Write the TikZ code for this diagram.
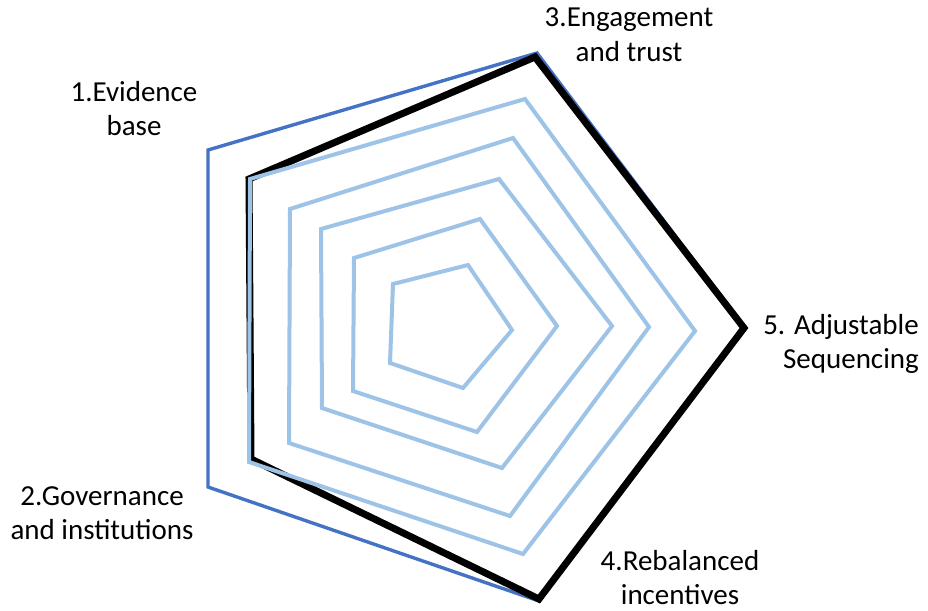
\documentclass[tikz,border=0pt]{standalone}
\usepackage{fontspec}
\setmainfont{Carlito}
\definecolor{ringblue}{HTML}{9DC3E6}
\definecolor{axisblue}{HTML}{4472C4}
\begin{document}
\begin{tikzpicture}[x=1pt,y=-1pt,
  ring/.style={draw=ringblue, line width=4pt, line join=miter},
  outerring/.style={draw=axisblue, line width=3.4pt, line join=miter},
  score/.style={draw=black, line width=7pt, line join=miter},
  axislabel/.style={font=\fontsize{29}{34}\selectfont, align=center, inner sep=0pt, anchor=base}]
\useasboundingbox (0,0) rectangle (928,610);

% title, only its lowest part falls inside the page
\node[font=\fontsize{56}{64}\selectfont, inner sep=0pt, anchor=base] (titlefrag) at (423,-25) {g};

% outer frame of the chart
\coordinate (evid) at (208,150);
\coordinate (enga) at (537,53);
\coordinate (adju) at (745,328);
\coordinate (reba) at (539,601);
\coordinate (gove) at (208,487);
\draw[outerring] (evid) -- (enga) -- (adju) -- (reba) -- (gove) -- cycle;

% assessed profile
\draw[score] (249,179) -- (535,57) -- (744,328) -- (539,599) -- (251,459) -- cycle;

% inner grid rings
\draw[ring] (393,284) -- (468,265) -- (512,330) -- (463,388) -- (390,363) -- cycle;
\draw[ring] (354,258) -- (480,219) -- (557,326) -- (477,432) -- (353,391) -- cycle;
\draw[ring] (321,229) -- (499,179) -- (612,326) -- (502,468) -- (322,408) -- cycle;
\draw[ring] (290,209) -- (513,138) -- (649,327) -- (510,516) -- (289,443) -- cycle;
\draw[ring] (250,179) -- (525,99) -- (695,331) -- (523,554) -- (249,462) -- cycle;

% axis labels (base anchor sits on the last line)
\node[axislabel] (levid) at (134,135) {1.Evidence\\base};
\node[axislabel] (lenga) at (629,61) {3.Engagement\\and trust};
\node[axislabel, align=right, anchor=base east] (ladju) at (919,368) {5. Adjustable\\Sequencing};
\node[axislabel] (lgove) at (102,539) {2.Governance\\and institutions};
\node[axislabel] (lreba) at (680,604) {4.Rebalanced\\incentives};
\end{tikzpicture}
\end{document}
